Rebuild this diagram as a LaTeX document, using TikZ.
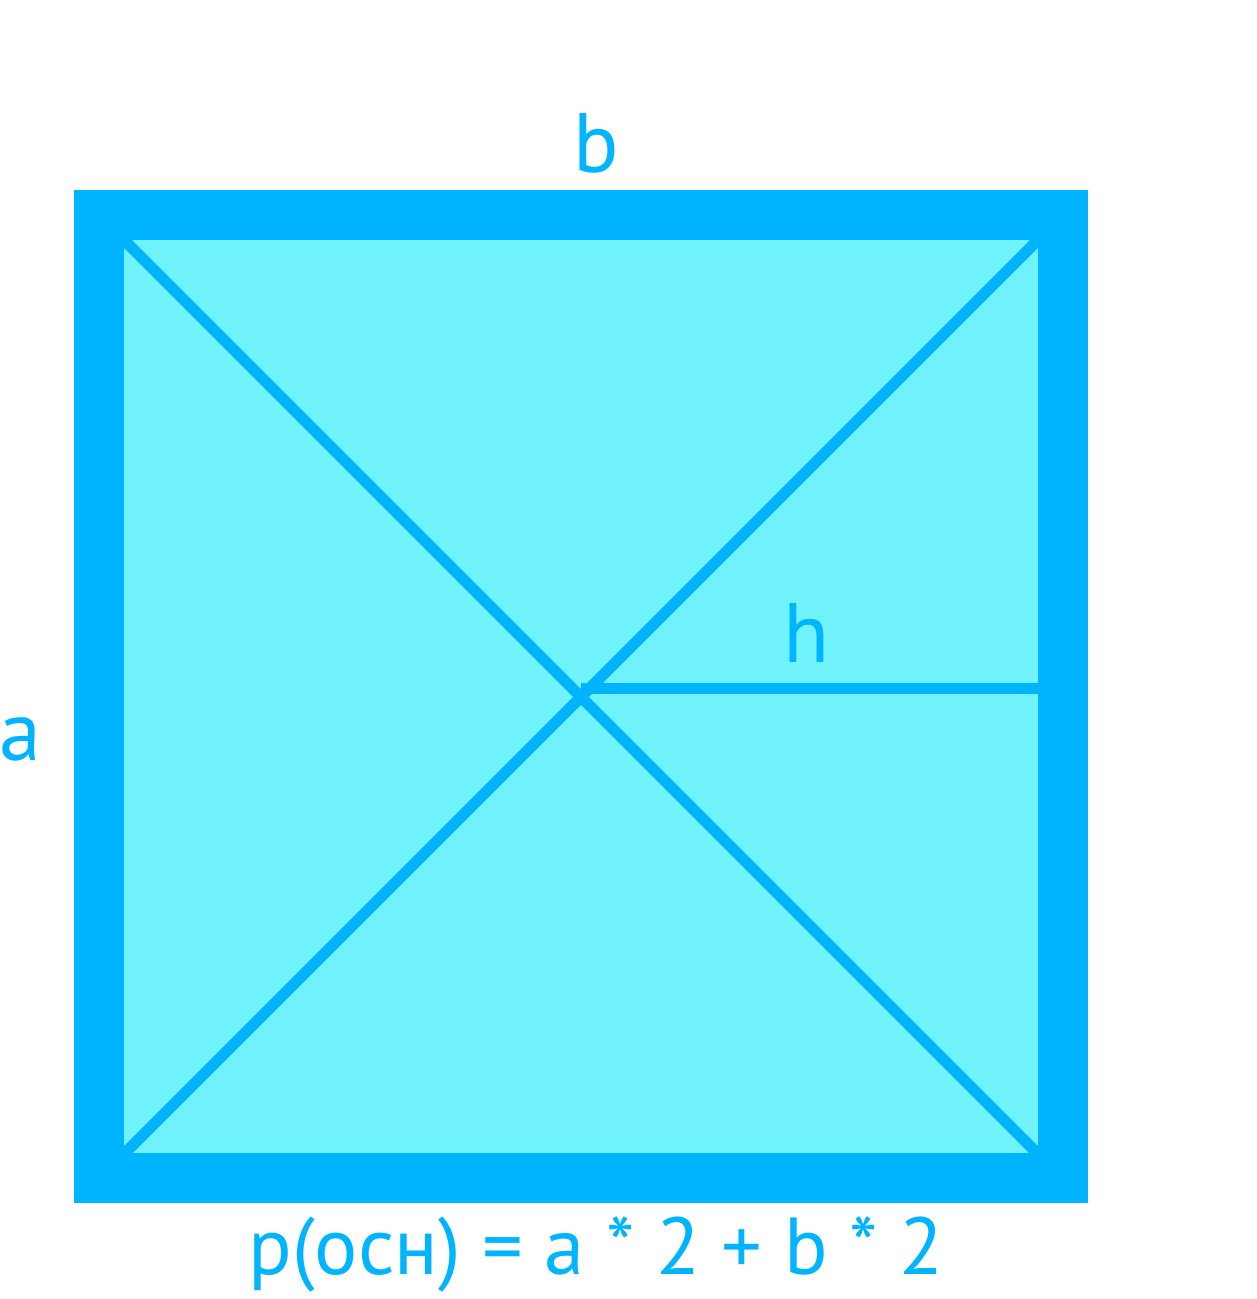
\documentclass[tikz,border=0pt]{standalone}
\usepackage{fontspec}
\setmainfont{PT Sans}
\usetikzlibrary{positioning,calc}
\definecolor{edge}{RGB}{0,180,255}
\definecolor{face}{RGB}{111,242,249}
\tikzset{
  every picture/.style={color=edge, line width=0.22cm},
  lbl/.style={font=\fontsize{48}{48}\selectfont, text=edge, inner sep=0pt, anchor=base},
  diag/.style={draw=edge, line width=0.22cm},
  rim/.style={draw=edge, line width=1cm},
}
\begin{document}
\begin{tikzpicture}[x=0.02cm, y=-0.02cm]
  \useasboundingbox (0,0) rectangle (1257,1299);
  % corners of the inner face
  \coordinate (tl) at (124,240);
  \coordinate (tr) at (1038,240);
  \coordinate (br) at (1038,1154);
  \coordinate (bl) at (124,1154);
  \coordinate (mid) at (581,688);
  \coordinate (hend) at (1038,688);
  \fill[face] (tl) rectangle (br);
  \draw[diag] (tl) -- (br);
  \draw[diag] (bl) -- (tr);
  \draw[diag] (mid) -- (hend);
  \draw[rim] (99,215) rectangle (1063,1178);
  \node[lbl] (b) at (596,172) {b};
  \node[lbl, anchor=base west] (a) at (-6,760) {a};
  \node[lbl] (h) at (807,662) {h};
  \node[lbl, font=\fontsize{46}{46}\selectfont] (perim) at (596,1274) {p(осн) = a * 2 + b * 2};
\end{tikzpicture}
\end{document}
